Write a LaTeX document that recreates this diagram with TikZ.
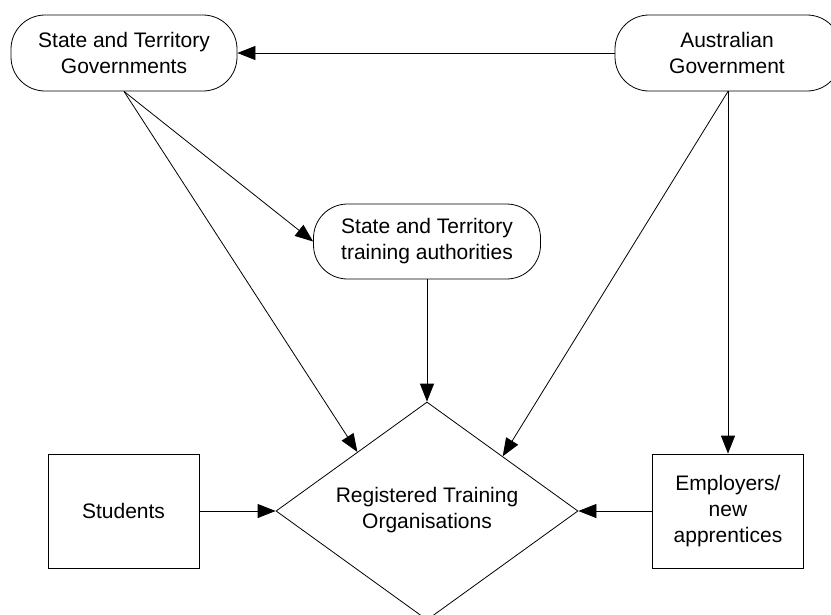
\documentclass[tikz,border=0pt]{standalone}
\usepackage{fontspec}
\setmainfont{Liberation Sans}
\usetikzlibrary{shapes.geometric,arrows.meta,calc}
\begin{document}
\begin{tikzpicture}[x=1pt,y=-1pt,
  every node/.style={font=\fontsize{21}{26}\selectfont, align=center},
  roundbox/.style={draw, line width=0.8pt, rounded corners=34pt, inner sep=0pt},
  sqbox/.style={draw, line width=0.8pt, inner sep=0pt, minimum width=151pt, minimum height=114pt},
  conn/.style={line width=0.8pt, -{Triangle[length=18pt,width=14pt]}}]
\useasboundingbox (0,0) rectangle (831,614);
\clip (0,0) rectangle (831,614);
\fill[white] (0,0) rectangle (831,614);

\node[roundbox, minimum width=226pt, minimum height=76pt] (sgt) at (124,53) {State and Territory\\Governments};
\node[roundbox, minimum width=226pt, minimum height=76pt] (ag) at (728,53) {};
\node (agt) at (727,53) {Australian\\Government};
\node[roundbox, minimum width=227pt, minimum height=75pt] (sta) at (427,241.5) {State and Territory\\training authorities};
\node[draw, diamond, line width=0.8pt, inner sep=0pt, minimum width=302pt, minimum height=218pt] (rto) at (427,511) {};
\node (rtot) at (427,510) {Registered Training\\Organisations};
\node[sqbox] (stu) at (123.5,511) {Students};
\node[sqbox] (emp) at (728,511) {Employers/\\new\\apprentices};

\coordinate (rtoleft) at ($(rto.west)!0.54!(rto.north)$);

\draw[conn] (ag.west) -- (sgt.east);
\draw[conn] (sgt.south) -- (sta.west);
\draw[conn] (sgt.south) -- (rtoleft);
\draw[conn] (sta.south) -- (rto.north);
\draw[conn] (ag.south) -- (rto.north east);
\draw[conn] (ag.south) -- (emp.north);
\draw[conn] (stu.east) -- (rto.west);
\draw[conn] (emp.west) -- (rto.east);
\end{tikzpicture}
\end{document}
